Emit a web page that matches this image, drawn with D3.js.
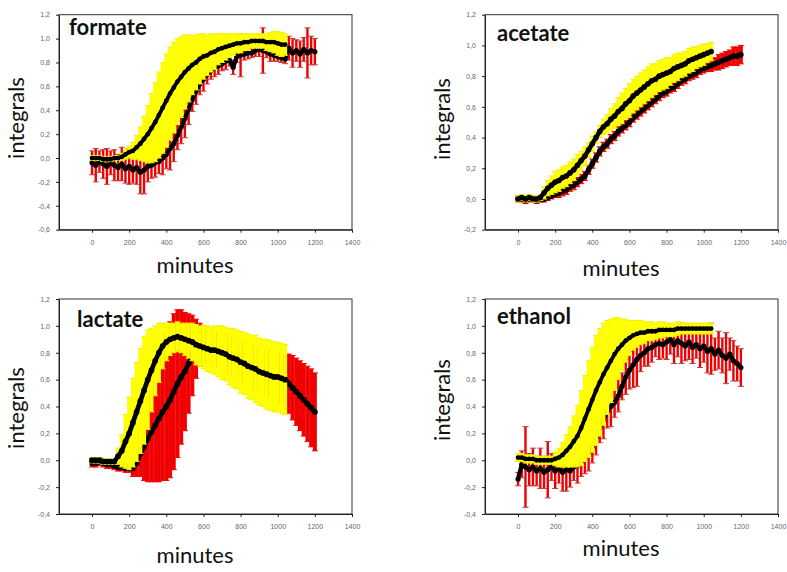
<!DOCTYPE html>
<html>
<head>
<meta charset="utf-8">
<script src="https://cdn.jsdelivr.net/npm/d3@7"></script>
<style>
  body { margin: 0; background: #fff; }
  svg { display: block; }
  .tick text { font-family: "Liberation Sans", Arial, sans-serif; font-size: 7px; fill: #666; }
  .tick line, .domain { stroke: #222; }
  .title { font-family: Lato, sans-serif; font-weight: bold; font-size: 22px; fill: #111; }
  .label { font-family: Lato, sans-serif; font-size: 22px; fill: #111; }
</style>
</head>
<body>
<div id="chart"></div>
<script>
// sampling times (minutes); the yellow series stop at 1040, the red ones at 1200
const minutes = [0,20,40,60,80,100,120,140,160,180,200,220,240,260,280,300,320,340,360,380,400,420,440,460,480,500,520,540,560,580,600,620,640,660,680,700,720,740,760,780,800,820,840,860,880,900,920,940,960,980,1000,1020,1040,1060,1080,1100,1120,1140,1160,1180,1200];

const xTicks = [0,200,400,600,800,1000,1200,1400];
const titles = ["formate", "acetate", "lactate", "ethanol"];

// formate
const formateYTicks = [-0.6,-0.4,-0.2,0,0.2,0.4,0.6,0.8,1.0,1.2];
const formateYellowMean = [0.00,0.00,0.00,-0.01,-0.01,-0.01,0.00,0.00,0.01,0.03,0.05,0.06,0.09,0.12,0.16,0.20,0.25,0.30,0.36,0.42,0.48,0.54,0.59,0.64,0.68,0.72,0.75,0.78,0.80,0.83,0.85,0.86,0.88,0.89,0.91,0.92,0.93,0.94,0.95,0.96,0.96,0.97,0.97,0.98,0.98,0.98,0.98,0.97,0.97,0.97,0.96,0.95,0.95];
const formateYellowErr = [0.02,0.02,0.02,0.02,0.02,0.02,0.02,0.02,0.03,0.04,0.05,0.07,0.10,0.14,0.19,0.24,0.29,0.33,0.36,0.38,0.39,0.39,0.38,0.36,0.34,0.31,0.28,0.25,0.23,0.21,0.19,0.17,0.16,0.15,0.13,0.12,0.11,0.10,0.09,0.08,0.08,0.07,0.07,0.06,0.06,0.06,0.06,0.07,0.08,0.09,0.10,0.10,0.09];
const formateRedMean = [-0.04,-0.06,-0.03,-0.05,-0.07,-0.04,-0.06,-0.08,-0.05,-0.09,-0.07,-0.10,-0.08,-0.12,-0.10,-0.07,-0.06,-0.04,-0.03,0.00,0.03,0.08,0.12,0.19,0.26,0.33,0.41,0.49,0.56,0.62,0.66,0.70,0.73,0.76,0.77,0.79,0.81,0.82,0.76,0.85,0.86,0.87,0.88,0.88,0.90,0.91,0.90,0.89,0.87,0.86,0.85,0.84,0.83,0.92,0.88,0.90,0.87,0.91,0.88,0.90,0.89];
const formateRedErr = [0.10,0.14,0.09,0.12,0.15,0.10,0.13,0.11,0.14,0.12,0.15,0.11,0.14,0.18,0.20,0.13,0.11,0.12,0.10,0.14,0.12,0.18,0.15,0.12,0.14,0.16,0.13,0.10,0.11,0.09,0.10,0.08,0.07,0.08,0.07,0.06,0.07,0.05,0.06,0.05,0.18,0.05,0.05,0.04,0.05,0.06,0.19,0.05,0.06,0.05,0.04,0.04,0.04,0.10,0.12,0.09,0.11,0.10,0.21,0.12,0.11];

// acetate
const acetateYTicks = [-0.2,0,0.2,0.4,0.6,0.8,1.0,1.2];
const acetateYellowMean = [0.00,0.01,0.00,0.01,0.00,0.00,0.01,0.04,0.07,0.09,0.11,0.12,0.14,0.15,0.17,0.19,0.22,0.25,0.28,0.32,0.36,0.40,0.44,0.47,0.49,0.52,0.54,0.57,0.59,0.62,0.64,0.67,0.69,0.71,0.73,0.75,0.77,0.78,0.80,0.81,0.82,0.83,0.85,0.86,0.87,0.88,0.90,0.91,0.92,0.93,0.94,0.95,0.96];
const acetateYellowErr = [0.02,0.02,0.02,0.02,0.02,0.02,0.02,0.04,0.05,0.06,0.07,0.07,0.07,0.07,0.07,0.07,0.07,0.06,0.06,0.05,0.05,0.04,0.04,0.05,0.06,0.07,0.08,0.09,0.10,0.10,0.11,0.11,0.11,0.11,0.11,0.11,0.11,0.10,0.10,0.10,0.10,0.09,0.09,0.09,0.08,0.08,0.08,0.08,0.07,0.07,0.07,0.06,0.06];
const acetateRedMean = [0.00,0.00,-0.01,0.00,0.00,-0.01,0.00,0.00,0.01,0.02,0.03,0.04,0.05,0.06,0.08,0.09,0.11,0.13,0.15,0.19,0.23,0.27,0.31,0.34,0.36,0.39,0.41,0.44,0.46,0.48,0.50,0.53,0.55,0.57,0.59,0.61,0.63,0.65,0.67,0.69,0.70,0.72,0.73,0.75,0.77,0.78,0.80,0.81,0.82,0.84,0.85,0.86,0.87,0.88,0.89,0.90,0.91,0.92,0.93,0.93,0.94];
const acetateRedErr = [0.02,0.02,0.02,0.02,0.02,0.02,0.02,0.02,0.02,0.02,0.02,0.03,0.03,0.03,0.03,0.03,0.03,0.03,0.03,0.03,0.03,0.03,0.03,0.03,0.03,0.03,0.03,0.03,0.03,0.03,0.03,0.03,0.03,0.03,0.03,0.03,0.03,0.03,0.03,0.03,0.03,0.03,0.03,0.03,0.03,0.03,0.03,0.03,0.03,0.03,0.03,0.03,0.04,0.04,0.05,0.05,0.05,0.05,0.06,0.06,0.06];

// lactate
const lactateYTicks = [-0.4,-0.2,0,0.2,0.4,0.6,0.8,1.0,1.2];
const lactateYellowMean = [0.00,0.00,0.00,-0.01,-0.01,-0.01,-0.01,0.03,0.07,0.14,0.20,0.28,0.36,0.44,0.52,0.60,0.67,0.74,0.80,0.85,0.88,0.90,0.91,0.92,0.91,0.90,0.89,0.88,0.86,0.85,0.84,0.83,0.82,0.82,0.81,0.80,0.79,0.77,0.76,0.75,0.73,0.72,0.70,0.69,0.68,0.66,0.65,0.64,0.63,0.62,0.62,0.61,0.60];
const lactateYellowErr = [0.02,0.02,0.02,0.02,0.02,0.02,0.02,0.06,0.12,0.20,0.27,0.33,0.37,0.39,0.40,0.37,0.31,0.26,0.22,0.17,0.14,0.12,0.11,0.11,0.11,0.12,0.13,0.14,0.15,0.15,0.16,0.17,0.17,0.18,0.19,0.20,0.20,0.21,0.22,0.22,0.23,0.23,0.24,0.24,0.25,0.25,0.25,0.26,0.26,0.26,0.26,0.26,0.26];
const lactateRedMean = [-0.02,-0.02,-0.01,-0.02,-0.03,-0.03,-0.04,-0.05,-0.05,-0.06,-0.06,-0.06,-0.02,0.05,0.10,0.16,0.21,0.26,0.31,0.36,0.40,0.45,0.51,0.57,0.62,0.66,0.72,0.78,0.83,0.86,0.86,0.85,0.84,0.83,0.82,0.81,0.80,0.78,0.77,0.75,0.74,0.72,0.71,0.69,0.68,0.67,0.66,0.65,0.64,0.63,0.62,0.61,0.60,0.57,0.54,0.51,0.48,0.45,0.42,0.39,0.36];
const lactateRedErr = [0.03,0.03,0.03,0.03,0.03,0.03,0.03,0.03,0.03,0.03,0.03,0.06,0.10,0.17,0.25,0.32,0.37,0.42,0.47,0.51,0.55,0.58,0.58,0.55,0.50,0.44,0.37,0.30,0.22,0.16,0.14,0.12,0.12,0.13,0.13,0.13,0.14,0.14,0.14,0.15,0.15,0.15,0.16,0.16,0.16,0.17,0.17,0.17,0.17,0.18,0.18,0.18,0.18,0.22,0.24,0.25,0.26,0.27,0.28,0.29,0.29];

// ethanol
const ethanolYTicks = [-0.4,-0.2,0,0.2,0.4,0.6,0.8,1.0,1.2];
const ethanolYellowMean = [0.02,0.02,0.01,0.01,0.01,0.00,0.00,0.00,0.00,0.00,0.01,0.02,0.04,0.07,0.10,0.14,0.18,0.24,0.31,0.38,0.45,0.52,0.58,0.64,0.69,0.74,0.79,0.83,0.86,0.89,0.91,0.93,0.94,0.95,0.95,0.96,0.96,0.96,0.97,0.97,0.97,0.97,0.97,0.98,0.98,0.98,0.98,0.98,0.98,0.98,0.98,0.98,0.98];
const ethanolYellowErr = [0.03,0.03,0.03,0.03,0.03,0.03,0.03,0.03,0.03,0.03,0.05,0.07,0.09,0.12,0.15,0.19,0.23,0.28,0.32,0.36,0.39,0.41,0.40,0.38,0.35,0.31,0.27,0.23,0.19,0.16,0.13,0.11,0.10,0.09,0.08,0.07,0.07,0.06,0.06,0.06,0.05,0.05,0.05,0.05,0.04,0.04,0.04,0.04,0.04,0.04,0.04,0.04,0.04];
const ethanolRedMean = [-0.14,-0.03,-0.05,-0.07,-0.05,-0.08,-0.06,-0.09,-0.07,-0.05,-0.08,-0.06,-0.09,-0.07,-0.08,-0.05,-0.04,-0.01,0.02,0.06,0.10,0.17,0.24,0.30,0.36,0.40,0.43,0.48,0.55,0.62,0.67,0.71,0.75,0.78,0.80,0.83,0.84,0.86,0.87,0.86,0.88,0.90,0.86,0.89,0.87,0.85,0.88,0.84,0.86,0.83,0.85,0.81,0.83,0.79,0.82,0.78,0.76,0.79,0.74,0.72,0.69];
const ethanolRedErr = [0.05,0.10,0.30,0.12,0.14,0.11,0.15,0.12,0.21,0.10,0.13,0.11,0.14,0.16,0.12,0.10,0.13,0.11,0.12,0.14,0.12,0.13,0.11,0.14,0.12,0.15,0.11,0.12,0.10,0.13,0.14,0.17,0.20,0.12,0.10,0.13,0.11,0.09,0.12,0.10,0.13,0.11,0.14,0.12,0.15,0.11,0.13,0.12,0.10,0.14,0.12,0.16,0.19,0.12,0.14,0.13,0.19,0.12,0.15,0.13,0.14];

// panel table built from the arrays above
const panels = [
  {title: titles[0], yTicks: formateYTicks, yMean: formateYellowMean, yErr: formateYellowErr, rMean: formateRedMean, rErr: formateRedErr},
  {title: titles[1], yTicks: acetateYTicks, yMean: acetateYellowMean, yErr: acetateYellowErr, rMean: acetateRedMean, rErr: acetateRedErr},
  {title: titles[2], yTicks: lactateYTicks, yMean: lactateYellowMean, yErr: lactateYellowErr, rMean: lactateRedMean, rErr: lactateRedErr},
  {title: titles[3], yTicks: ethanolYTicks, yMean: ethanolYellowMean, yErr: ethanolYellowErr, rMean: ethanolRedMean, rErr: ethanolRedErr}
];

// where each panel sits on the page, and how it is drawn
const layout = [
  {left: 59, top: 14.7, titleX: 69, titleY: 35, yLabX: 23.5, yLabY: 118, xLabX: 195, xLabY: 273, dot: 2.4, noisy: true},
  {left: 485, top: 14.7, titleX: 497, titleY: 40.7, yLabX: 450, yLabY: 119, xLabX: 621, xLabY: 276, dot: 2.8, noisy: false},
  {left: 59, top: 299, titleX: 77, titleY: 326.7, yLabX: 23.5, yLabY: 408, xLabX: 195, xLabY: 563, dot: 2.9, noisy: false},
  {left: 485, top: 299, titleX: 497, titleY: 324.3, yLabX: 450, yLabY: 400, xLabX: 621, xLabY: 556, dot: 2.4, noisy: true}
];

const plotW = 293, plotH = 215;

// comma decimals, plain hyphen minus
const locale = d3.formatLocale({decimal: ",", thousands: ".", grouping: [3], currency: ["", ""], minus: "-"});
const fmtY = locale.format(".1f");

const svg = d3.select("#chart")
  .append("svg")
    .attr("width", 787)
    .attr("height", 572);

const x = d3.scaleLinear().domain([-178, 1400]).range([0, plotW]);

// draws vertical error bars with caps
function drawErrorBars(g, y, means, errs, color, capColor, stemWidth, capHalf) {
  const rows = means.map(function(m, i) { return {t: minutes[i], lo: m - errs[i], hi: m + errs[i]}; });
  g.append("g")
    .selectAll("line")
    .data(rows)
    .enter()
    .append("line")
      .attr("x1", function(d) { return x(d.t); })
      .attr("x2", function(d) { return x(d.t); })
      .attr("y1", function(d) { return y(d.lo); })
      .attr("y2", function(d) { return y(d.hi); })
      .attr("stroke", color)
      .attr("stroke-width", stemWidth);
  g.append("path")
    .attr("d", rows.map(function(d) {
      return "M" + (x(d.t) - capHalf) + "," + y(d.lo) + "h" + (2 * capHalf) +
             "M" + (x(d.t) - capHalf) + "," + y(d.hi) + "h" + (2 * capHalf);
    }).join(""))
    .attr("fill", "none")
    .attr("stroke", capColor)
    .attr("stroke-width", 1);
}

// black symbols, joined so the dense run reads as one thick line
function drawPoints(g, y, means, r) {
  const pts = means.map(function(m, i) { return [minutes[i], m]; });
  g.append("path")
    .datum(pts)
    .attr("fill", "none")
    .attr("stroke", "#000")
    .attr("stroke-width", r * 1.6)
    .attr("stroke-linejoin", "round")
    .attr("d", d3.line().x(function(d) { return x(d[0]); }).y(function(d) { return y(d[1]); }));
  g.append("g")
    .selectAll("circle")
    .data(pts)
    .enter()
    .append("circle")
      .attr("cx", function(d) { return x(d[0]); })
      .attr("cy", function(d) { return y(d[1]); })
      .attr("r", r)
      .attr("fill", "#000");
}

panels.forEach(function(p, k) {
  const L = layout[k];
  const y = d3.scaleLinear()
    .domain([d3.min(p.yTicks), d3.max(p.yTicks)])
    .range([plotH, 0]);

  const g = svg.append("g")
    .attr("transform", "translate(" + L.left + "," + L.top + ")");

  // plot frame
  g.append("rect")
    .attr("width", plotW)
    .attr("height", plotH)
    .attr("fill", "#fff")
    .attr("stroke", "#333")
    .attr("stroke-width", 1);

  // red series (second experiment) underneath
  if (L.noisy) {
    drawErrorBars(g, y, p.rMean, p.rErr, "#f00000", "#c83a3a", 2.4, 3);
  } else {
    drawErrorBars(g, y, p.rMean, p.rErr, "#f00000", "#f00000", 4, 3);
  }
  drawPoints(g, y, p.rMean, L.noisy ? 2.6 : L.dot);

  // yellow series on top
  drawErrorBars(g, y, p.yMean, p.yErr, "#ffff00", "#f2f200", 4, 3);
  drawPoints(g, y, p.yMean, L.dot);

  // axes
  g.append("g")
    .attr("transform", "translate(0," + plotH + ")")
    .call(d3.axisBottom(x).tickValues(xTicks).tickSize(3).tickSizeOuter(0).tickPadding(7).tickFormat(d3.format("d")));
  g.append("g")
    .call(d3.axisLeft(y).tickValues(p.yTicks).tickSize(3).tickSizeOuter(0).tickPadding(6).tickFormat(fmtY));

  // texts
  svg.append("text")
    .attr("class", "title")
    .attr("x", L.titleX)
    .attr("y", L.titleY)
    .text(p.title);
  svg.append("text")
    .attr("class", "label")
    .attr("text-anchor", "middle")
    .attr("transform", "translate(" + L.yLabX + "," + L.yLabY + ")rotate(-90)")
    .text("integrals");
  svg.append("text")
    .attr("class", "label")
    .attr("text-anchor", "middle")
    .attr("x", L.xLabX)
    .attr("y", L.xLabY)
    .text("minutes");
});
</script>
</body>
</html>
